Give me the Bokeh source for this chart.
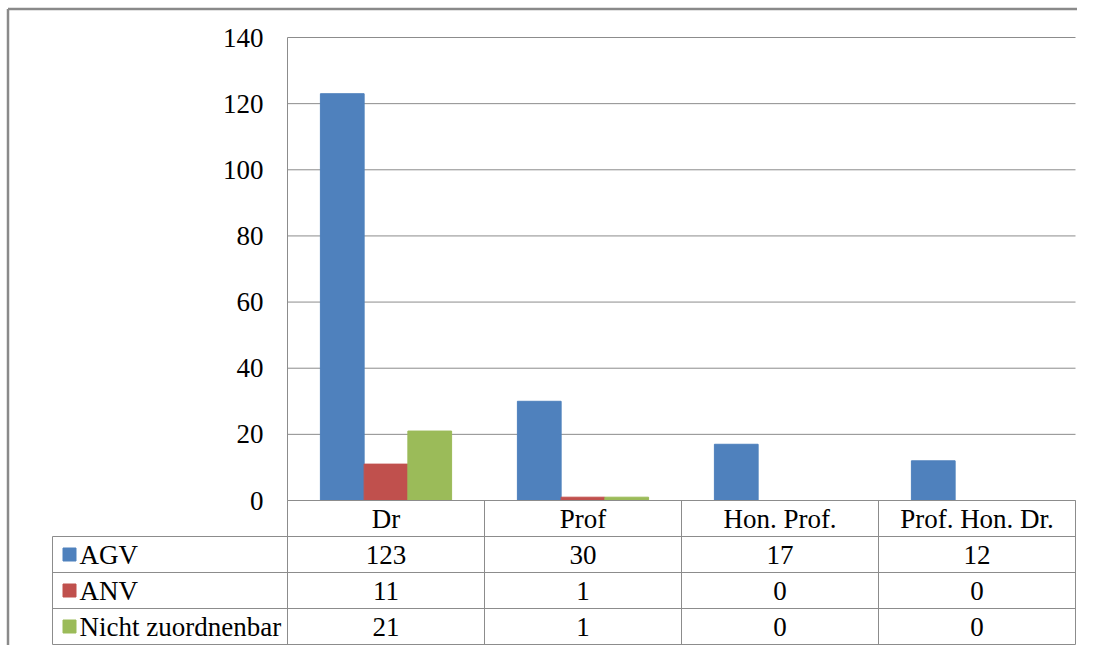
from bokeh.plotting import figure
from bokeh.models import Range1d
from bokeh.core.properties import value
from bokeh.embed import file_html
from bokeh.resources import INLINE

categories = ["Dr", "Prof", "Hon. Prof.", "Prof. Hon. Dr."]
series = ["AGV", "ANV", "Nicht zuordnenbar"]
agv = [123, 30, 17, 12]
anv = [11, 1, 0, 0]
nicht = [21, 1, 0, 0]
y_ticks = [0, 20, 40, 60, 80, 100, 120, 140]
colors = ["#4F81BD", "#C0504D", "#9BBB59"]

values = [agv, anv, nicht]
n_cat = len(categories)
n_ser = len(series)
y_max = max(y_ticks)

FONT = value("Liberation Serif")
FS = "27px"
GRID = "#8c8c8c"

# ---- layout in pixels (figure coordinates) ----
W, H = 1077, 645
plot_left = 287        # x pixel of the value axis
cat_px = 197.0         # width of one category column
plot_top = 37          # y pixel of the top tick
plot_bottom = 500      # y pixel of zero
hdr_px = 235.0         # width of the series-name column of the table
row_px = 36.0          # height of a table row

ppu_y = (plot_bottom - plot_top) / y_max
x_range = Range1d(-plot_left / cat_px, (W - plot_left) / cat_px)
y_range = Range1d(-(H - plot_bottom) / ppu_y, y_max + plot_top / ppu_y)
t_range = Range1d((H - plot_bottom) / row_px, -plot_bottom / row_px)

p = figure(width=W, height=H, x_range=x_range, y_range=y_range,
           x_axis_location=None, y_axis_location=None,
           output_backend="svg", toolbar_location=None,
           min_border=0, min_border_left=0, min_border_right=0,
           min_border_top=0, min_border_bottom=0)
p.extra_y_ranges = {"table": t_range}
p.outline_line_color = None
p.xgrid.grid_line_color = None
p.ygrid.grid_line_color = None

# outer frame (left and top edges)
fx = x_range.start + 7.5 / cat_px
fy = y_range.end - 8.5 / ppu_y
p.segment(x0=[fx, fx], y0=[y_range.start, fy], x1=[fx, x_range.end], y1=[fy, fy],
          line_color="#8a8a8a", line_width=2.5)

# value gridlines, axis line and tick labels
p.segment(x0=[0] * len(y_ticks), x1=[n_cat] * len(y_ticks), y0=y_ticks, y1=y_ticks,
          line_color=GRID, line_width=1)
p.segment(x0=[0], x1=[0], y0=[0], y1=[y_max], line_color=GRID, line_width=1)
p.text(x=[0] * len(y_ticks), y=y_ticks, text=[str(t) for t in y_ticks],
       x_offset=-24, text_font=FONT, text_font_size=FS, text_color="#000000",
       text_align="right", text_baseline="middle")

# bars
bw = 0.222
for i, vals in enumerate(values):
    off = (i - 1) * bw
    p.vbar(x=[c + 0.5 + off for c in range(n_cat)], top=vals, bottom=0, width=bw,
           fill_color=colors[i], line_color=colors[i], line_width=1)

# ---- data table ----
hdr = hdr_px / cat_px
x0s, y0s, x1s, y1s = [], [], [], []
x0s.append(0); x1s.append(n_cat); y0s.append(0); y1s.append(0)
for r in range(1, n_ser + 2):
    x0s.append(-hdr); x1s.append(n_cat); y0s.append(r); y1s.append(r)
for c in range(0, n_cat + 1):
    x0s.append(c); x1s.append(c); y0s.append(0); y1s.append(n_ser + 1)
x0s.append(-hdr); x1s.append(-hdr); y0s.append(1); y1s.append(n_ser + 1)
p.segment(x0=x0s, y0=y0s, x1=x1s, y1=y1s, line_color=GRID, line_width=1,
          y_range_name="table")

p.text(x=[c + 0.5 for c in range(n_cat)], y=[0.5] * n_cat, text=categories,
       text_font=FONT, text_font_size=FS, text_color="#000000",
       text_align="center", text_baseline="middle", y_range_name="table")

p.scatter(x=[-hdr + 17 / cat_px] * n_ser, y=[r + 1.5 for r in range(n_ser)],
          marker="square", size=13, fill_color=colors, line_color=colors,
          y_range_name="table")
p.text(x=[-hdr + 27 / cat_px] * n_ser, y=[r + 1.5 for r in range(n_ser)], text=series,
       text_font=FONT, text_font_size=FS, text_color="#000000",
       text_align="left", text_baseline="middle", y_range_name="table")

xs, ys, ts = [], [], []
for r, vals in enumerate(values):
    for c, v in enumerate(vals):
        xs.append(c + 0.5); ys.append(r + 1.5); ts.append(str(v))
p.text(x=xs, y=ys, text=ts, text_font=FONT, text_font_size=FS, text_color="#000000",
       text_align="center", text_baseline="middle", y_range_name="table")

open("out.html", "w").write(file_html(p, INLINE))
